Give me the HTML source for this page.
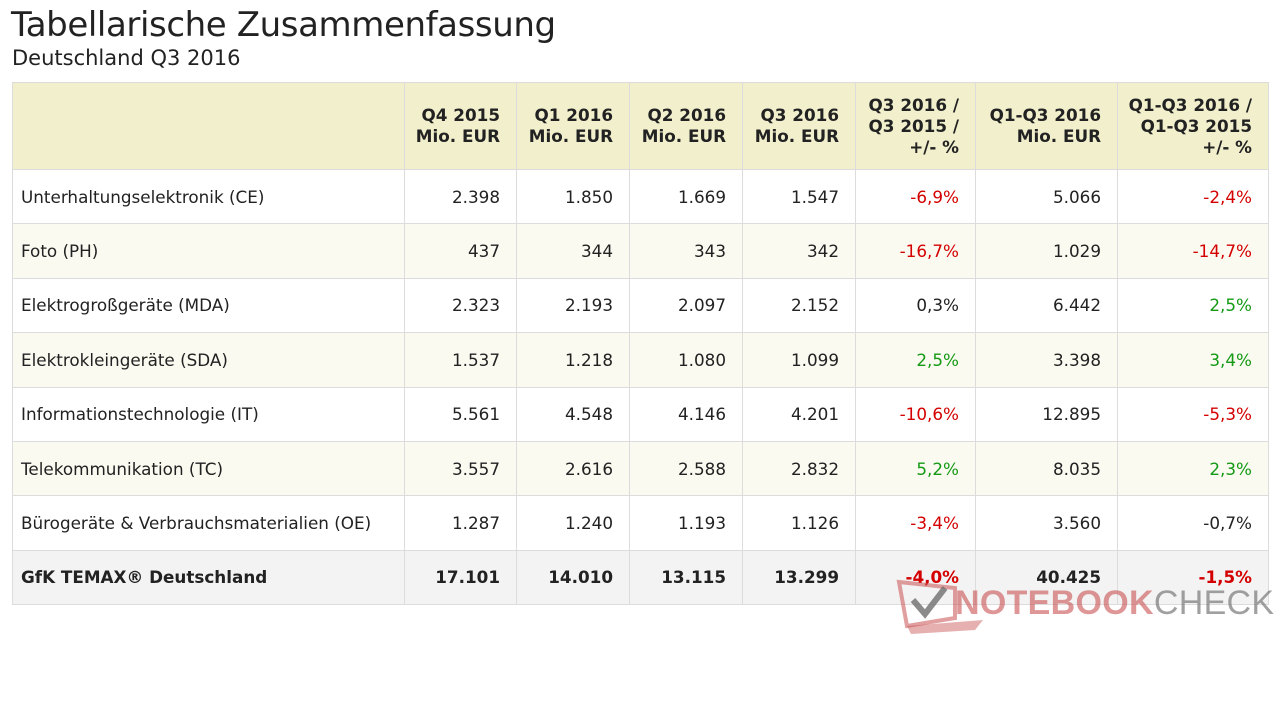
<!DOCTYPE html>
<html><head><meta charset="utf-8">
<style>
*{margin:0;padding:0;box-sizing:border-box}
body{width:1280px;height:720px;background:#fff;font-family:"DejaVu Sans","Liberation Sans",sans-serif;color:#222;position:relative;overflow:hidden}
h1{position:absolute;left:11px;top:5px;font-size:34px;font-weight:normal;color:#222;letter-spacing:-0.4px}
h2{position:absolute;left:12px;top:46px;font-size:21px;font-weight:normal;color:#222}
table{position:absolute;left:12px;top:82px;border-collapse:collapse;table-layout:fixed;width:1256px}
td,th{border:1px solid #dcdcdc;font-size:16.8px;text-align:right;padding:0 16px 0 8px;height:54.4px}
th{background:#f1efcc;font-weight:bold;line-height:21px;height:87px;vertical-align:middle}
td:first-child{text-align:left;padding-left:8px}
tr.alt td{background:#fafaf1}
tr.tot td{background:#f3f3f3;font-weight:bold}
.n{color:#d40000}.p{color:#159a15}
.wm{position:absolute;left:955px;top:584px;font-size:34px;font-weight:bold;letter-spacing:0.3px;font-family:"Liberation Sans",sans-serif}
</style></head><body>
<h1>Tabellarische Zusammenfassung</h1>
<h2>Deutschland Q3 2016</h2>
<table>
<colgroup><col style="width:392px"><col style="width:112px"><col style="width:113px"><col style="width:113px"><col style="width:113px"><col style="width:120px"><col style="width:142px"><col style="width:151px"></colgroup>
<tr><th></th><th>Q4 2015<br>Mio. EUR</th><th>Q1 2016<br>Mio. EUR</th><th>Q2 2016<br>Mio. EUR</th><th>Q3 2016<br>Mio. EUR</th><th>Q3 2016 /<br>Q3 2015 /<br>+/- %</th><th>Q1-Q3 2016<br>Mio. EUR</th><th>Q1-Q3 2016 /<br>Q1-Q3 2015<br>+/- %</th></tr>
<tr><td>Unterhaltungselektronik (CE)</td><td>2.398</td><td>1.850</td><td>1.669</td><td>1.547</td><td class="n">-6,9%</td><td>5.066</td><td class="n">-2,4%</td></tr>
<tr class="alt"><td>Foto (PH)</td><td>437</td><td>344</td><td>343</td><td>342</td><td class="n">-16,7%</td><td>1.029</td><td class="n">-14,7%</td></tr>
<tr><td>Elektrogroßgeräte (MDA)</td><td>2.323</td><td>2.193</td><td>2.097</td><td>2.152</td><td>0,3%</td><td>6.442</td><td class="p">2,5%</td></tr>
<tr class="alt"><td>Elektrokleingeräte (SDA)</td><td>1.537</td><td>1.218</td><td>1.080</td><td>1.099</td><td class="p">2,5%</td><td>3.398</td><td class="p">3,4%</td></tr>
<tr><td>Informationstechnologie (IT)</td><td>5.561</td><td>4.548</td><td>4.146</td><td>4.201</td><td class="n">-10,6%</td><td>12.895</td><td class="n">-5,3%</td></tr>
<tr class="alt"><td>Telekommunikation (TC)</td><td>3.557</td><td>2.616</td><td>2.588</td><td>2.832</td><td class="p">5,2%</td><td>8.035</td><td class="p">2,3%</td></tr>
<tr><td>Bürogeräte &amp; Verbrauchsmaterialien (OE)</td><td>1.287</td><td>1.240</td><td>1.193</td><td>1.126</td><td class="n">-3,4%</td><td>3.560</td><td>-0,7%</td></tr>
<tr class="tot"><td>GfK TEMAX® Deutschland</td><td>17.101</td><td>14.010</td><td>13.115</td><td>13.299</td><td class="n">-4,0%</td><td>40.425</td><td class="n">-1,5%</td></tr>
</table>
<svg style="position:absolute;left:895px;top:578px" width="95" height="58">
<path d="M4 4 L60 10 L60 40 L12 48 Z" fill="none" stroke="rgba(200,80,80,0.55)" stroke-width="4"/>
<path d="M12 48 L88 42 L80 52 L16 56 Z" fill="rgba(200,80,80,0.45)"/>
<path d="M18 22 L30 36 L50 10" fill="none" stroke="rgba(110,110,110,0.8)" stroke-width="6"/>
</svg>
<div class="wm"><span style="color:rgba(200,80,80,0.6)">NOTEBOOK</span><span style="color:rgba(120,120,120,0.7);font-weight:normal">CHECK</span></div>
</body></html>
